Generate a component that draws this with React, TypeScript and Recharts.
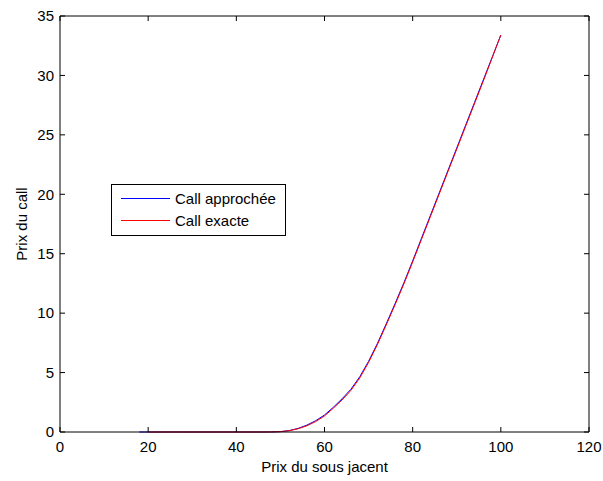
import React from 'react';
import { LineChart, Line, XAxis, YAxis, Legend } from 'recharts';

const underlying = [18, 20, 22, 24, 26, 28, 30, 32, 34, 36, 38, 40, 42, 44, 46, 48, 50, 52, 54, 56, 58, 60, 62, 64, 66, 68, 70, 72, 74, 76, 78, 80, 82, 84, 86, 88, 90, 92, 94, 96, 98, 100];
const callApprochee = [0, 0, 0, 0, 0, 0, 0, 0, 0, 0, 0, 0, 0, 0, 0, 0.005, 0.03, 0.12, 0.3, 0.58, 0.95, 1.43, 2.08, 2.8, 3.6, 4.65, 5.95, 7.45, 9.1, 10.8, 12.55, 14.4, 16.3, 18.2, 20.1, 22.0, 23.9, 25.8, 27.7, 29.6, 31.5, 33.4];
const callExacte = [null, 0, 0, 0, 0, 0, 0, 0, 0, 0, 0, 0, 0, 0, 0, 0.005, 0.03, 0.11, 0.27, 0.52, 0.88, 1.35, 2.0, 2.7, 3.5, 4.55, 5.85, 7.35, 9.0, 10.7, 12.45, 14.3, 16.2, 18.1, 20.0, 21.9, 23.8, 25.7, 27.6, 29.5, 31.45, 33.4];
const xTicks = [0, 20, 40, 60, 80, 100, 120];
const yTicks = [0, 5, 10, 15, 20, 25, 30, 35];

const data = underlying.map((s, i) => ({ s, approx: callApprochee[i], exact: callExacte[i] }));

const FONT = '"Liberation Sans", Arial, Helvetica, sans-serif';
const TICK_LEN = 5;
const BOTTOM_GAP = 9;
const LEFT_GAP = 6;
const TICK_COLOR = '#000';

const BottomTick = (props: any) => {
  const { x, y, payload } = props;
  const axisY = y - BOTTOM_GAP;
  return (
    <g>
      <line x1={x} x2={x} y1={axisY} y2={axisY - TICK_LEN} stroke={TICK_COLOR} strokeWidth={1} />
      <text x={x} y={y} dy="0.71em" textAnchor="middle" fontSize={15} fontFamily={FONT} fill="#000">{payload.value}</text>
    </g>
  );
};

const TopTick = (props: any) => {
  const { x, y } = props;
  return <line x1={x} x2={x} y1={y} y2={y + TICK_LEN} stroke={TICK_COLOR} strokeWidth={1} />;
};

const LeftTick = (props: any) => {
  const { x, y, payload } = props;
  const axisX = x + LEFT_GAP;
  return (
    <g>
      <line x1={axisX} x2={axisX + TICK_LEN} y1={y} y2={y} stroke={TICK_COLOR} strokeWidth={1} />
      <text x={x} y={y} dy="0.355em" textAnchor="end" fontSize={15} fontFamily={FONT} fill="#000">{payload.value}</text>
    </g>
  );
};

const RightTick = (props: any) => {
  const { x, y } = props;
  return <line x1={x} x2={x - TICK_LEN} y1={y} y2={y} stroke={TICK_COLOR} strokeWidth={1} />;
};

const LegendBox = (props: any) => {
  const payload = props.payload || [];
  return (
    <svg width={175} height={52} style={{ display: 'block' }}>
      <rect x={0.5} y={0.5} width={174} height={51} fill="#fff" stroke="#000" strokeWidth={1} />
      {payload.map((p: any, i: number) => (
        <g key={i}>
          <line x1={10} x2={59} y1={14.5 + i * 22} y2={14.5 + i * 22} stroke={p.color} strokeWidth={1} />
          <text x={64} y={20 + i * 22} fontSize={15} fontFamily={FONT} fill="#000">{p.value}</text>
        </g>
      ))}
    </svg>
  );
};

const YLabel = (props: any) => {
  const vb = props.viewBox || { x: 0, y: 16, width: 60, height: 416 };
  const x = vb.x + 27;
  const y = vb.y + vb.height / 2;
  return (
    <text x={x} y={y} transform={`rotate(-90, ${x}, ${y})`} textAnchor="middle" fontSize={15} fontFamily={FONT} fill="#000">
      Prix du call
    </text>
  );
};

export default function App() {
  return (
    <div style={{ position: 'absolute', left: 0, top: 0, background: '#fff' }}>
      <LineChart width={603} height={481} data={data} margin={{ top: 0, right: 0, bottom: 0, left: 0 }}>
        <XAxis xAxisId="bottom" dataKey="s" type="number" domain={[0, 120]} ticks={xTicks} orientation="bottom" height={49} stroke="#000" tickLine={false} tickSize={0} tickMargin={BOTTOM_GAP} tick={<BottomTick />}
          label={{ value: 'Prix du sous jacent', position: 'insideBottom', offset: 9, fill: '#000', fontSize: 15, fontFamily: FONT }} />
        <XAxis xAxisId="top" dataKey="s" type="number" domain={[0, 120]} ticks={xTicks} orientation="top" height={16} stroke="#000" tickLine={false} tickSize={0} tickMargin={0} tick={<TopTick />} />
        <YAxis yAxisId="left" dataKey="approx" type="number" domain={[0, 35]} ticks={yTicks} orientation="left" width={60} stroke="#000" tickLine={false} tickSize={0} tickMargin={LEFT_GAP} tick={<LeftTick />} label={<YLabel />} />
        <YAxis yAxisId="right" dataKey="approx" type="number" domain={[0, 35]} allowDataOverflow ticks={yTicks} interval={0} orientation="right" width={14} stroke="#000" tickLine={false} tickSize={0} tickMargin={0} tick={<RightTick />} />
        <Legend layout="horizontal" verticalAlign="middle" align="center" content={<LegendBox />}
          wrapperStyle={{ position: 'absolute', left: 111, top: 184, width: 175, height: 52, bottom: 'auto', right: 'auto' }} />
        <Line xAxisId="bottom" yAxisId="left" type="linear" dataKey="approx" name="Call approchée" stroke="#0000ff" strokeWidth={1} dot={false} activeDot={false} isAnimationActive={false} />
        <Line xAxisId="bottom" yAxisId="left" type="linear" dataKey="exact" name="Call exacte" stroke="#ff0000" strokeWidth={1} dot={false} activeDot={false} isAnimationActive={false} />
      </LineChart>
    </div>
  );
}
